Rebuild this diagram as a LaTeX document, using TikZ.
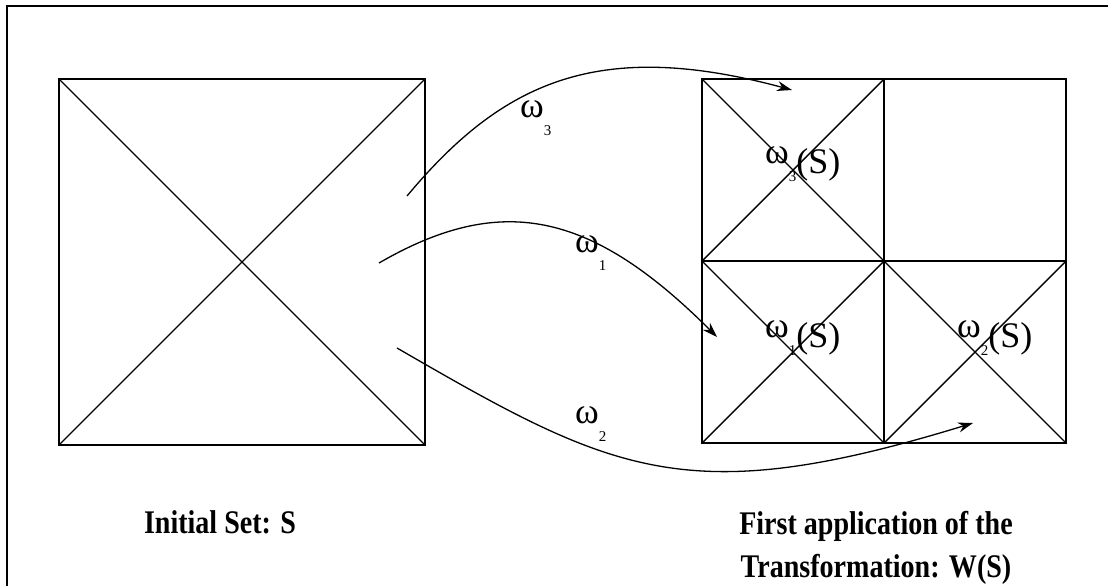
\documentclass[tikz,border=0pt]{standalone}
\usepackage{fontspec}
\setmainfont{Liberation Serif}
\newfontfamily\capfont[FakeStretch=0.85]{Liberation Serif}
\usetikzlibrary{arrows.meta, positioning}

\newcommand{\omsub}[1]{ω\raisebox{-18pt}{\fontsize{15}{15}\selectfont #1}}

\begin{document}
\begin{tikzpicture}[
    x=1pt, y=-1pt,
    set/.style={rectangle, draw, line width=1.6pt, inner sep=0pt, outer sep=0pt},
    bigset/.style={set, minimum size=366pt},
    subset/.style={set, minimum size=182pt},
    diag/.style={line width=1.4pt},
    arrow/.style={-{Stealth[length=15pt, width=10pt]}, line width=1.3pt},
    maplabel/.style={inner sep=0pt, anchor=base west, font=\fontsize{36}{40}\selectfont},
    caption/.style={inner sep=0pt, align=center, font=\capfont\fontsize{33}{43}\selectfont\bfseries}
]
    \useasboundingbox (0,0) rectangle (1108,586);
    % frame, runs off the page at right and bottom
    \draw[line width=2.2pt] (7,700) -- (7,6) -- (1200,6);

    % Left side: the initial set
    \node[bigset] (S) at (242,262) {};
    \draw[diag] (S.north west) -- (S.south east);
    \draw[diag] (S.south west) -- (S.north east);

    % Right side: three images and an empty quarter
    \node[subset] (q3) at (793,170) {};
    \node[subset, right=0pt of q3] (q4) {};
    \node[subset, below=0pt of q3] (q1) {};
    \node[subset, right=0pt of q1] (q2) {};
    \foreach \q in {q1,q2,q3} {
        \draw[diag] (\q.north west) -- (\q.south east);
        \draw[diag] (\q.south west) -- (\q.north east);
    }
    \node[maplabel] (l3) at (765,173) {\raisebox{10pt}{\omsub{3}}(S)};
    \node[maplabel] (l1) at (765,347) {\raisebox{10pt}{\omsub{1}}(S)};
    \node[maplabel] (l2) at (957,347) {\raisebox{10pt}{\omsub{2}}(S)};

    % The three maps
    \coordinate (s3) at (407,196);
    \coordinate (t3) at (792,90);
    \coordinate (s1) at (379,263);
    \coordinate (t1) at (717,337);
    \coordinate (s2) at (397,348);
    \coordinate (t2) at (973,423);
    \draw[arrow] (s3) .. controls (503,81) and (599,38) .. (t3);
    \draw[arrow] (s1) .. controls (500,193) and (590,210) .. (t1);
    \draw[arrow] (s2) .. controls (613,473) and (686,511) .. (t2);
    \node[maplabel] (a3) at (520,117) {\omsub{3}};
    \node[maplabel] (a1) at (575,252) {\omsub{1}};
    \node[maplabel] (a2) at (575,423) {\omsub{2}};

    % Captions
    \node[caption, anchor=base] (cap1) at (220,533) {Initial Set: S};
    \node[caption, anchor=north] (cap2) at (876,511) {First application of the\\Transformation: W(S)};
\end{tikzpicture}
\end{document}
